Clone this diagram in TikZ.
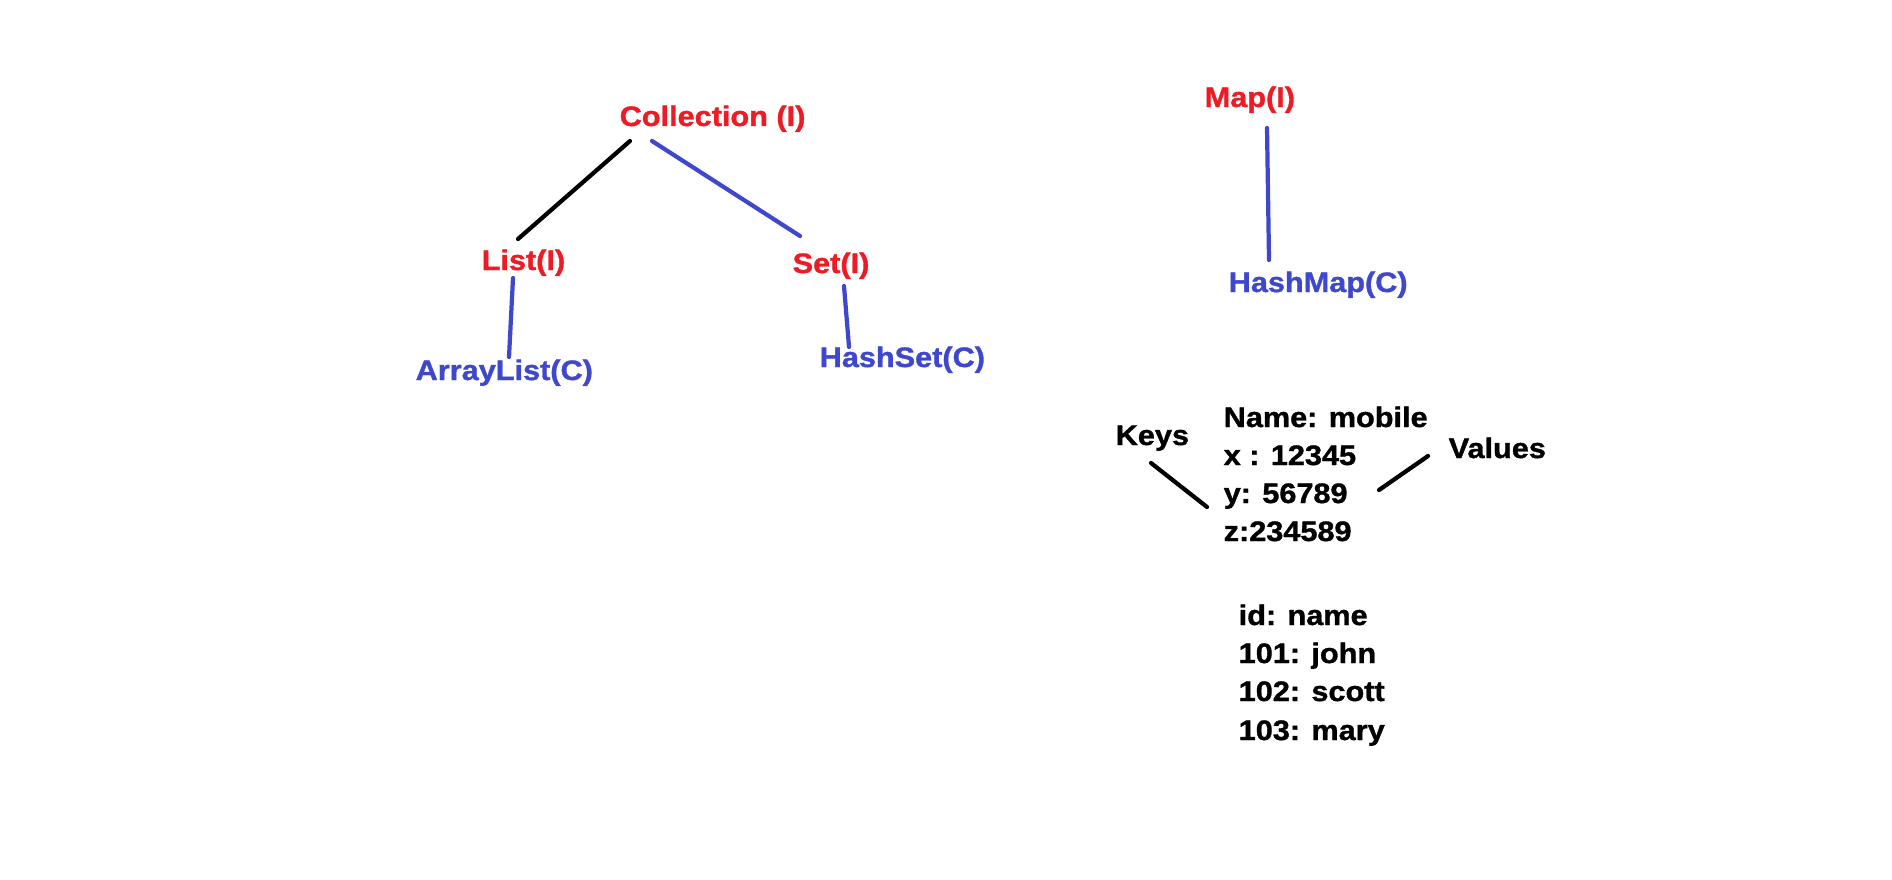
\documentclass[tikz,border=0pt]{standalone}
\usepackage{fontspec}
\setmainfont{Liberation Sans}[FakeStretch=1.09, BoldFeatures={FakeBold=1.2}]
\usetikzlibrary{calc}
\definecolor{paintred}{RGB}{237,28,36}
\definecolor{paintblue}{RGB}{63,72,204}
\tikzset{
  lbl/.style={inner sep=0pt, anchor=base west, font=\fontsize{8}{9.6}\selectfont\bfseries},
  iface/.style={lbl, text=paintred},
  cls/.style={lbl, text=paintblue},
  pair/.style={lbl, text=black},
  link/.style={line width=1.2pt, line cap=round},
}
\begin{document}
\begin{tikzpicture}[x=0.01cm, y=-0.01cm]
  \useasboundingbox (0,0) rectangle (1892,879);

  % collection side
  \node [iface] (coll) at (619,126) {Collection (I)};
  \node [iface] (list) at (481,270) {List(I)};
  \node [iface] (set) at (792,273) {Set(I)};
  \node [cls] (alist) at (415,380) {ArrayList(C)};
  \node [cls] (hset) at (819,367) {HashSet(C)};

  \draw [link, black] ($(coll.base west)+(11,15)$) -- ($(list.base west)+(37,-31)$);
  \draw [link, paintblue] ($(coll.base west)+(33,15)$) -- ($(set.base west)+(8,-37)$);
  \draw [link, paintblue] ($(list.base west)+(32,8)$) -- ($(alist.base west)+(94,-23)$);
  \draw [link, paintblue] ($(set.base west)+(52,13)$) -- ($(hset.base west)+(30,-20)$);

  % map side
  \node [iface] (map) at (1204,107) {Map(I)};
  \node [cls] (hmap) at (1228,292) {HashMap(C)};
  \draw [link, paintblue] ($(map.base west)+(63,21)$) -- ($(hmap.base west)+(41,-32)$);

  % key value examples
  \node [pair] (name) at (1223,427) {Name: mobile};
  \node [pair] (xval) at (1223,465) {x : 12345};
  \node [pair] (yval) at (1223,503) {y: 56789};
  \node [pair] (zval) at (1223,541) {z:234589};
  \node [pair] (keys) at (1115,445) {Keys};
  \node [pair] (values) at (1448,458) {Values};

  \draw [link, black] ($(keys.base west)+(36,18)$) -- ($(yval.base west)+(-16,4)$);
  \draw [link, black] ($(values.base west)+(-20,-2)$) -- ($(yval.base west)+(156,-13)$);

  \node [pair] (idname) at (1238,625) {id: name};
  \node [pair] (john) at (1238,663) {101: john};
  \node [pair] (scott) at (1238,701) {102: scott};
  \node [pair] (mary) at (1238,740) {103: mary};
\end{tikzpicture}
\end{document}
